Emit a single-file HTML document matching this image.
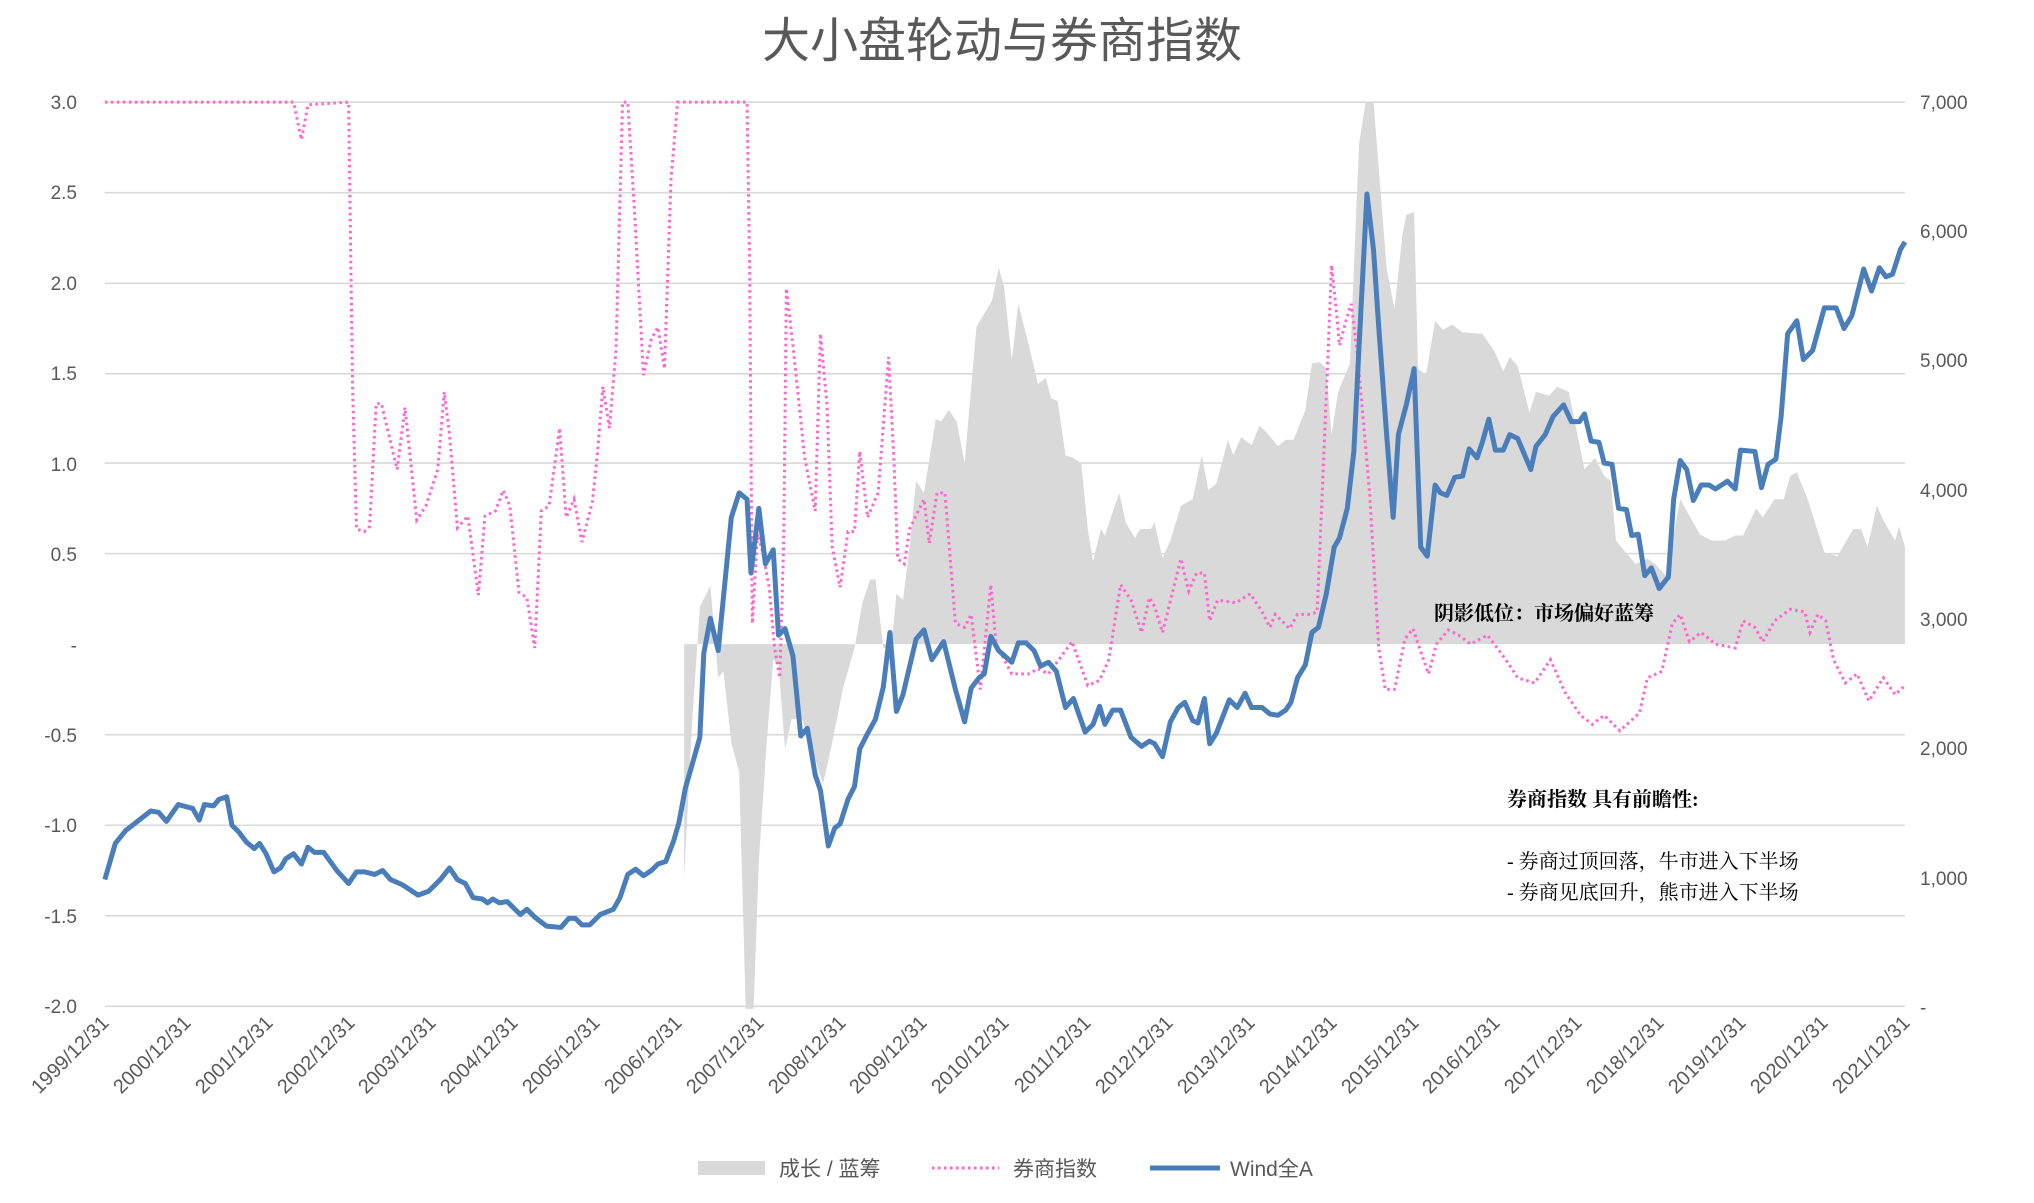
<!DOCTYPE html>
<html><head><meta charset="utf-8">
<style>
html,body{margin:0;padding:0;background:#fff;}
svg{display:block;}
text{font-family:"Liberation Sans","Noto Sans CJK SC",sans-serif;fill:#595959;}
.tk{font-size:19px;}
.xl{font-size:20px;}
.an{font-family:"Liberation Serif","Noto Serif CJK SC",serif;fill:#000;font-size:20px;}
</style></head><body>
<svg width="2034" height="1203" viewBox="0 0 2034 1203" xmlns="http://www.w3.org/2000/svg">
<text x="1002" y="57" text-anchor="middle" style="font-size:48px;font-family:'Liberation Sans','Noto Sans CJK SC',sans-serif">大小盘轮动与券商指数</text>
<g transform="scale(1.3106,1.2935)">
<polygon fill="#d9d9d9" points="522,498 522,679 528,560 534,469 542,453 548,524 552,519 558,574 564,597 569,780 575,780 579,666 585,574 590,510 594,514 599,579 604,556 612,556 628,606 634,579 643,533 652,501 658,466 664,448 668,448 674,501 680,501 684,459 689,464 694,423 699,372 705,381 714,324 718,326 724,317 730,326 736,358 745,253 757,232 762,207 766,221 772,278 777,235 786,271 792,297 798,292 802,308 807,310 813,352 819,354 825,358 830,409 834,434 840,409 843,414 854,381 859,404 866,416 870,409 878,409 881,404 887,432 893,418 901,391 910,386 917,352 922,379 928,374 937,340 941,352 947,338 955,344 961,329 967,335 975,345 981,340 987,340 996,317 1001,281 1007,280 1012,285 1016,336 1021,303 1030,281 1037,111 1042,79 1048,79 1058,207 1064,239 1070,182 1073,166 1079,164 1082,285 1088,290 1095,248 1101,255 1108,251 1116,257 1131,258 1140,271 1147,287 1152,276 1158,283 1167,319 1172,303 1182,306 1188,299 1197,303 1209,363 1217,354 1224,368 1229,372 1233,418 1248,436 1257,432 1263,436 1271,445 1282,386 1297,413 1306,418 1316,418 1324,414 1330,414 1340,393 1345,400 1354,386 1361,386 1366,368 1371,365 1380,388 1392,427 1402,430 1414,409 1420,409 1425,423 1432,391 1438,404 1446,418 1449,407 1453.5,423 1453.5,498"/>
<g stroke="#d9d9d9" stroke-width="1.6">
<line x1="80" x2="1453.5" y1="79" y2="79" vector-effect="non-scaling-stroke"/>
<line x1="80" x2="1453.5" y1="149" y2="149" vector-effect="non-scaling-stroke"/>
<line x1="80" x2="1453.5" y1="219" y2="219" vector-effect="non-scaling-stroke"/>
<line x1="80" x2="1453.5" y1="289" y2="289" vector-effect="non-scaling-stroke"/>
<line x1="80" x2="1453.5" y1="358" y2="358" vector-effect="non-scaling-stroke"/>
<line x1="80" x2="1453.5" y1="428" y2="428" vector-effect="non-scaling-stroke"/>
<line x1="80" x2="1453.5" y1="568" y2="568" vector-effect="non-scaling-stroke"/>
<line x1="80" x2="1453.5" y1="638" y2="638" vector-effect="non-scaling-stroke"/>
<line x1="80" x2="1453.5" y1="708" y2="708" vector-effect="non-scaling-stroke"/>
<line x1="80" x2="1453.5" y1="778" y2="778" vector-effect="non-scaling-stroke"/>
</g>
<polyline fill="none" stroke="#ff66cc" stroke-width="3" stroke-dasharray="2.5 3.5" vector-effect="non-scaling-stroke" points="80,79 224,79 230,108 235,81 266,79 269,299 272,409 278,411 282,407 287,312 291,312 303,363 309,315 318,402 325,391 334,363 339,303 343,336 349,408 357,399 365,460 370,399 378,395 384,379 389,391 396,458 402,462 408,501 413,395 419,391 427,331 432,400 438,386 444,419 452,388 456,349 460,299 465,331 470,271 475,79 479,79 484,161 491,290 497,262 502,253 507,285 512,138 517,79 570,79 572,207 574,482 578,413 582,427 587,455 591,501 595,524 598,418 600,223 605,267 614,354 622,395 626,258 631,313 635,423 641,454 647,411 652,411 656,349 662,400 670,381 678,276 682,354 685,432 690,436 694,409 705,386 709,420 715,381 721,381 729,482 736,485 741,475 748,533 756,452 760,498 772,521 785,521 792,517 800,521 818,496 830,530 839,526 846,510 855,452 863,464 871,489 877,462 881,469 887,489 901,432 907,457 913,443 919,443 923,480 929,464 943,466 954,459 963,473 969,485 973,475 984,486 990,475 1000,475 1005,473 1010,354 1013,281 1016,205 1020,244 1022,267 1027,248 1031,235 1036,276 1045,381 1052,501 1057,533 1064,533 1072,494 1078,486 1090,521 1096,498 1105,487 1113,491 1122,498 1135,491 1149,510 1158,524 1171,528 1183,510 1194,535 1206,553 1215,560 1224,553 1236,565 1251,551 1257,524 1268,519 1276,482 1282,475 1289,496 1298,489 1309,498 1324,501 1330,480 1339,485 1345,496 1354,480 1366,471 1377,473 1381,489 1387,475 1393,480 1399,510 1408,528 1417,521 1426,542 1437,524 1446,537 1453.5,530"/>
<polyline fill="none" stroke="#4a7ebb" stroke-width="5" stroke-linejoin="round" vector-effect="non-scaling-stroke" points="80,680 88,652 96,642 115,627 121,628 127,635 136,622 147,625 152,634 156,622 163,623 167,618 173,616 177,638 182,643 188,651 194,656 198,652 203,660 209,674 214,671 218,664 224,660 230,668 235,655 240,659 247,659 257,673 266,683 272,674 278,674 286,676 292,673 298,680 307,684 319,692 327,689 336,680 343,671 349,680 355,683 361,694 368,695 372,698 376,695 381,698 387,697 397,707 402,703 408,709 417,716 428,717 434,710 439,710 444,715 450,715 458,707 468,703 473,694 479,676 485,672 491,677 497,673 502,668 508,666 514,650 518,636 523,609 529,588 534,570 537,505 542,478 548,503 558,400 564,381 570,386 573,443 579,393 584,436 590,425 594,491 599,486 605,507 611,569 616,563 622,599 626,611 632,654 637,640 641,637 647,618 652,608 656,579 662,567 668,556 674,531 679,489 684,550 689,537 699,494 705,487 711,510 720,496 729,533 736,558 741,532 747,524 751,521 756,492 762,503 772,512 777,497 783,497 789,503 794,515 800,512 806,519 813,547 819,540 828,566 834,560 839,546 843,560 849,549 855,549 863,570 871,577 877,573 881,575 887,585 893,558 899,547 904,543 910,557 914,559 919,540 923,575 928,567 938,541 944,547 950,536 955,547 963,547 969,552 975,553 981,549 985,543 990,524 996,514 1001,489 1006,485 1012,459 1018,423 1022,416 1028,393 1033,349 1037,267 1043,150 1048,193 1052,253 1058,336 1063,400 1067,336 1073,313 1079,285 1084,423 1089,430 1095,375 1099,381 1104,383 1110,369 1116,368 1121,347 1127,354 1131,342 1136,324 1141,348 1147,348 1152,336 1158,339 1168,363 1172,345 1179,336 1185,322 1193,313 1199,326 1205,326 1209,320 1214,341 1220,342 1224,358 1230,359 1235,393 1241,394 1245,414 1250,413 1255,445 1260,439 1266,455 1273,446 1277,386 1282,356 1287,363 1292,387 1298,375 1304,375 1309,378 1318,372 1324,378 1328,348 1339,349 1344,377 1349,359 1355,355 1359,322 1364,258 1371,248 1376,278 1383,271 1392,238 1401,238 1407,254 1413,244 1422,208 1428,225 1434,207 1439,214 1444,212 1450,193 1453.5,187"/>
</g>
<g class="tk" text-anchor="end">
<text x="77" y="109">3.0</text><text x="77" y="199">2.5</text><text x="77" y="290">2.0</text>
<text x="77" y="380">1.5</text><text x="77" y="471">1.0</text><text x="77" y="561">0.5</text>
<text x="77" y="652">-</text><text x="77" y="742">-0.5</text><text x="77" y="832">-1.0</text>
<text x="77" y="923">-1.5</text><text x="77" y="1013">-2.0</text>
</g>
<g class="tk">
<text x="1920" y="109">7,000</text><text x="1920" y="238">6,000</text><text x="1920" y="367">5,000</text>
<text x="1920" y="497">4,000</text><text x="1920" y="626">3,000</text><text x="1920" y="755">2,000</text>
<text x="1920" y="885">1,000</text><text x="1920" y="1014">-</text>
</g>
<g class="xl" text-anchor="end">
<text transform="translate(110,1024) rotate(-45)">1999/12/31</text>
<text transform="translate(192,1024) rotate(-45)">2000/12/31</text>
<text transform="translate(274,1024) rotate(-45)">2001/12/31</text>
<text transform="translate(356,1024) rotate(-45)">2002/12/31</text>
<text transform="translate(437,1024) rotate(-45)">2003/12/31</text>
<text transform="translate(519,1024) rotate(-45)">2004/12/31</text>
<text transform="translate(601,1024) rotate(-45)">2005/12/31</text>
<text transform="translate(683,1024) rotate(-45)">2006/12/31</text>
<text transform="translate(765,1024) rotate(-45)">2007/12/31</text>
<text transform="translate(847,1024) rotate(-45)">2008/12/31</text>
<text transform="translate(928,1024) rotate(-45)">2009/12/31</text>
<text transform="translate(1010,1024) rotate(-45)">2010/12/31</text>
<text transform="translate(1092,1024) rotate(-45)">2011/12/31</text>
<text transform="translate(1174,1024) rotate(-45)">2012/12/31</text>
<text transform="translate(1256,1024) rotate(-45)">2013/12/31</text>
<text transform="translate(1338,1024) rotate(-45)">2014/12/31</text>
<text transform="translate(1420,1024) rotate(-45)">2015/12/31</text>
<text transform="translate(1501,1024) rotate(-45)">2016/12/31</text>
<text transform="translate(1583,1024) rotate(-45)">2017/12/31</text>
<text transform="translate(1665,1024) rotate(-45)">2018/12/31</text>
<text transform="translate(1747,1024) rotate(-45)">2019/12/31</text>
<text transform="translate(1829,1024) rotate(-45)">2020/12/31</text>
<text transform="translate(1911,1024) rotate(-45)">2021/12/31</text>
</g>
<text class="an" x="1434" y="620" style="font-weight:bold">阴影低位：市场偏好蓝筹</text>
<text class="an" x="1507" y="806" style="font-weight:bold">券商指数 具有前瞻性:</text>
<text class="an" x="1507" y="868">- 券商过顶回落，牛市进入下半场</text>
<text class="an" x="1507" y="899">- 券商见底回升，熊市进入下半场</text>
<rect x="698" y="1161" width="67" height="14" fill="#d9d9d9"/>
<text x="779" y="1176" style="font-size:21px">成长 / 蓝筹</text>
<line x1="932" y1="1168" x2="999" y2="1168" stroke="#ff66cc" stroke-width="3" stroke-dasharray="2.5 3.5"/>
<text x="1013" y="1176" style="font-size:21px">券商指数</text>
<line x1="1150" y1="1168" x2="1220" y2="1168" stroke="#4a7ebb" stroke-width="5"/>
<text x="1230" y="1176" style="font-size:21px">Wind全A</text>
</svg>
</body></html>
